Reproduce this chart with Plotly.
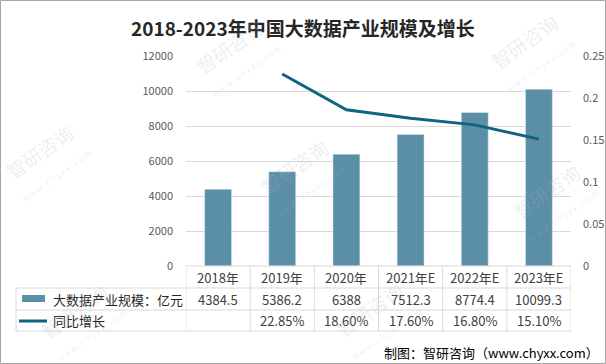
import plotly.graph_objects as go

years = ["2018年", "2019年", "2020年", "2021年E", "2022年E", "2023年E"]
scale = [4384.5, 5386.2, 6388, 7512.3, 8774.4, 10099.3]
scale_labels = ["4384.5", "5386.2", "6388", "7512.3", "8774.4", "10099.3"]
growth = [None, 0.2285, 0.186, 0.176, 0.168, 0.151]
growth_labels = ["", "22.85%", "18.60%", "17.60%", "16.80%", "15.10%"]
series_names = ["大数据产业规模：亿元", "同比增长"]
title = "2018-2023年中国大数据产业规模及增长"
source = "制图：智研咨询（www.chyxx.com）"

W, H = 606, 364
L, R, T, B = 186, 571, 56, 266  # plot area in px

def px(x):
    return (x - L) / (R - L)

def py(y):
    return (B - y) / (B - T)

BAR_C = "#5b8fa7"
LINE_C = "#0f6384"
GRID_C = "#d9d9d9"
TXT_C = "#404040"
FONT = "Noto Sans CJK SC"

fig = go.Figure()
fig.add_trace(go.Bar(x=years, y=scale, marker_color=BAR_C, width=0.42,
                     name=series_names[0], showlegend=False))
fig.add_trace(go.Scatter(x=years, y=growth, mode="lines", yaxis="y2",
                         line=dict(color=LINE_C, width=3), name=series_names[1],
                         showlegend=False))

shapes = []
annotations = []

row_y = [266, 288, 310, 331]
n = len(years)
shapes.append(dict(type="line", xref="x", yref="paper", x0=-0.5, x1=n - 0.5,
                   y0=py(row_y[0]), y1=py(row_y[0]), line=dict(color=GRID_C, width=1)))
for ry in row_y[1:]:
    shapes.append(dict(type="line", xref="paper", yref="paper", x0=px(16), x1=1,
                       y0=py(ry), y1=py(ry), line=dict(color=GRID_C, width=1)))
for i in range(n + 1):
    shapes.append(dict(type="line", xref="x", yref="paper", x0=i - 0.5, x1=i - 0.5,
                       y0=py(row_y[0]), y1=py(row_y[3]), line=dict(color=GRID_C, width=1)))
shapes.append(dict(type="line", xref="paper", yref="paper", x0=px(16), x1=px(16),
                   y0=py(row_y[1]), y1=py(row_y[3]), line=dict(color=GRID_C, width=1)))

shapes.append(dict(type="rect", xref="paper", yref="paper", x0=px(22), x1=px(45),
                   y0=py(302), y1=py(295), fillcolor=BAR_C, line=dict(width=0)))
shapes.append(dict(type="line", xref="paper", yref="paper", x0=px(19), x1=px(47),
                   y0=py(321), y1=py(321), line=dict(color=LINE_C, width=3)))

shapes.append(dict(type="rect", xref="paper", yref="paper", x0=px(0.5), x1=px(605.5),
                   y0=py(0.5), y1=py(363.5), line=dict(color="#a6a6a6", width=1)))

def ann(**kw):
    d = dict(showarrow=False, xanchor="center", yanchor="middle")
    d.update(kw)
    annotations.append(d)

row_c = [(row_y[i] + row_y[i + 1]) / 2 for i in range(3)]
tf = dict(size=13, color=TXT_C, family=FONT)
for i, yv in enumerate(years):
    ann(x=yv, y=py(row_c[0]), xref="x", yref="paper", text=yv, font=tf)
    ann(x=yv, y=py(row_c[1]), xref="x", yref="paper", text=scale_labels[i], font=tf)
    if growth_labels[i]:
        ann(x=yv, y=py(row_c[2]), xref="x", yref="paper", text=growth_labels[i], font=tf)
lf = dict(size=13, color="#262626", family=FONT)
ann(x=px(51), y=py(row_c[1]), xref="paper", yref="paper", text=series_names[0], xanchor="left", font=lf)
ann(x=px(51), y=py(row_c[2]), xref="paper", yref="paper", text=series_names[1], xanchor="left", font=lf)

ann(x=px(303), y=py(27), xref="paper", yref="paper", text="<b>" + title + "</b>",
    font=dict(size=19, color="#262626", family=FONT))
ann(x=px(601), y=py(352), xref="paper", yref="paper", text=source, xanchor="right",
    font=dict(size=13, color="#000000", family=FONT))

for (wx, wy) in [(235, 55), (530, 50), (45, 160), (300, 175), (552, 200), (80, 320), (375, 318)]:
    ann(x=px(wx), y=py(wy), xref="paper", yref="paper",
        text="智研咨询<br><span style='font-size:8px'>w w w . c h y x x . c o m</span>",
        textangle=-35, font=dict(size=19, color="rgba(170,180,195,0.22)", family=FONT))

fig.update_layout(
    width=W, height=H,
    margin=dict(l=L, r=W - R, t=T, b=H - B, pad=0, autoexpand=False),
    paper_bgcolor="white", plot_bgcolor="white",
    font=dict(family=FONT, color="#595959"),
    xaxis=dict(showticklabels=False, showgrid=False, showline=False, zeroline=False,
               range=[-0.5, n - 0.5], automargin=False),
    yaxis=dict(range=[0, 12000], dtick=2000, tickformat="d", showgrid=True, gridcolor=GRID_C,
               gridwidth=1, zeroline=False, showline=False, automargin=False,
               tickfont=dict(size=11, color="#595959"), ticklabelstandoff=12),
    yaxis2=dict(range=[0, 0.25], dtick=0.05, tickformat=".2~f", overlaying="y", side="right",
                showgrid=False, zeroline=False, showline=False, automargin=False,
                tickfont=dict(size=11, color="#595959"), ticklabelstandoff=11),
    shapes=shapes,
    annotations=annotations,
)

fig.write_html("out.html", config={"displayModeBar": False},
               post_script="document.body.style.margin='0';document.body.style.padding='0';")
